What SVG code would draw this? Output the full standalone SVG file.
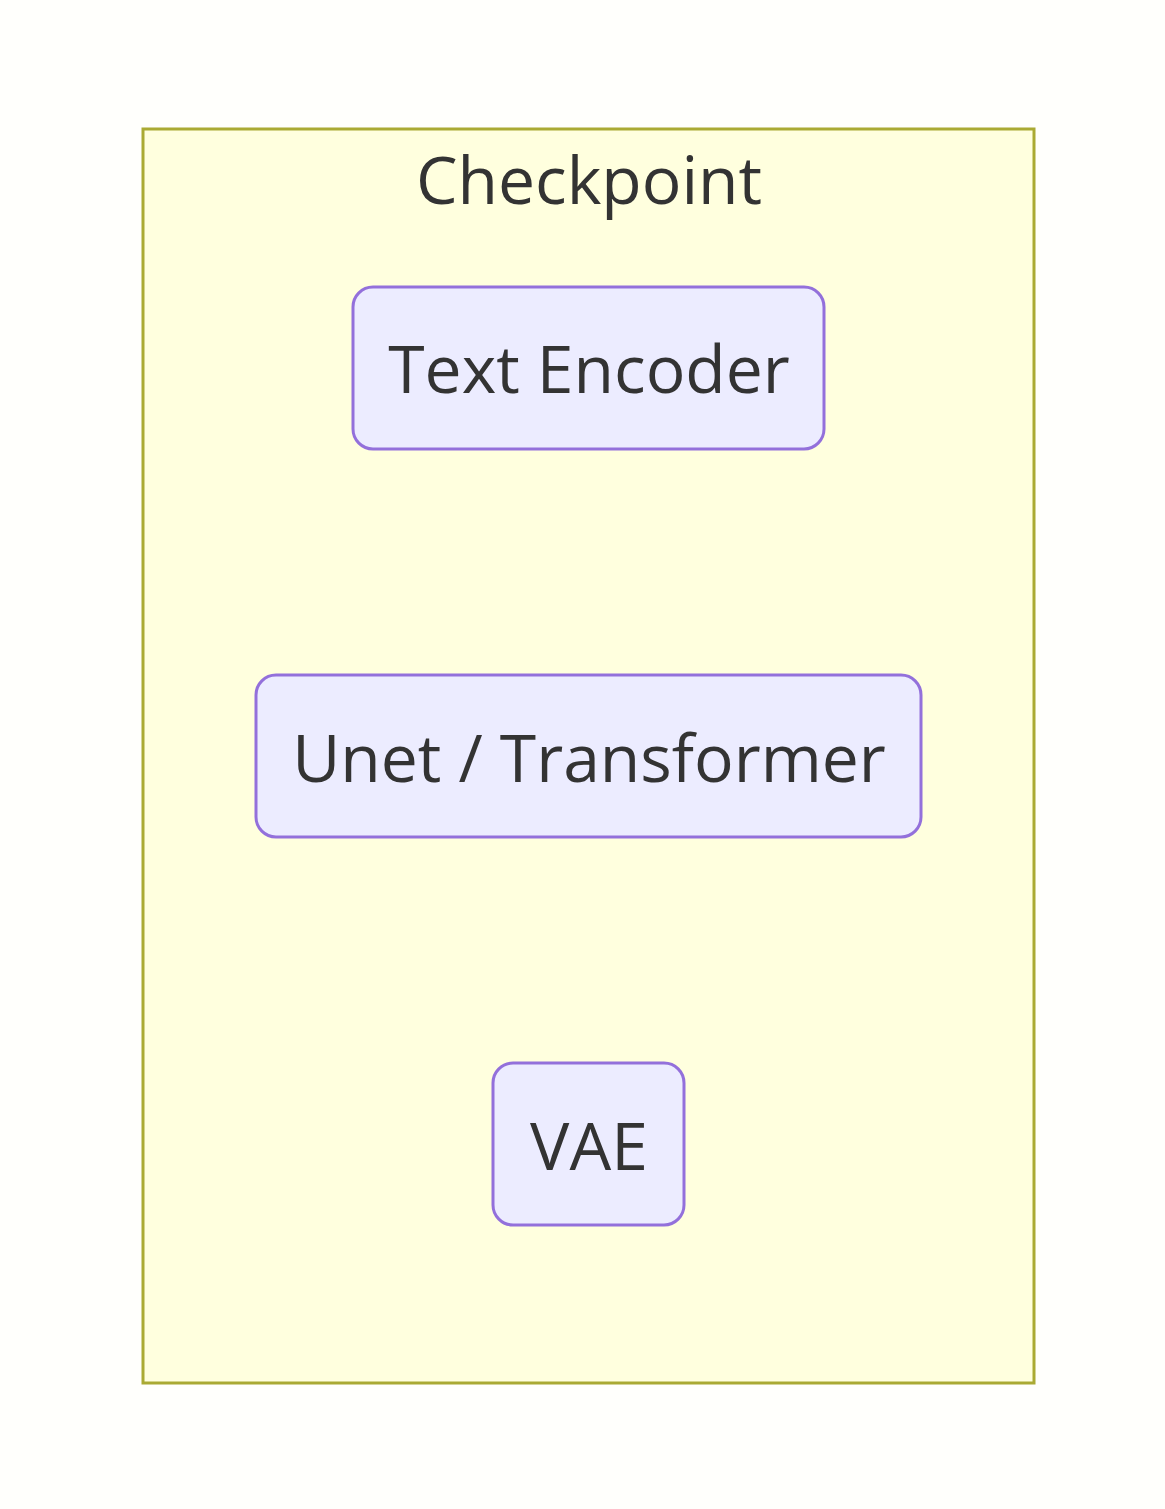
<svg xmlns="http://www.w3.org/2000/svg" width="1165" height="1509" viewBox="0 0 1165 1509">
<style>
.node rect{fill:#ECECFF;stroke:#9370DB;stroke-width:3}
text{font-family:"Open Sans","Noto Sans",sans-serif;fill:#333;text-anchor:middle}
.lbl{font-size:66px}
</style>
<rect width="1165" height="1509" fill="#FFFFFC"/>
<g id="Checkpoint">
<rect x="143" y="129" width="891" height="1254" fill="#FFFFDE" stroke="#AAAA33" stroke-width="3"/>
<text x="589" y="204" font-size="66">Checkpoint</text>
</g>
<g id="TextEncoder" class="node"><rect x="353" y="287" width="471" height="162" rx="20"/><text class="lbl" x="589" y="393">Text Encoder</text></g>
<g id="Unet" class="node"><rect x="256" y="675" width="665" height="162" rx="20"/><text class="lbl" x="589" y="782">Unet / Transformer</text></g>
<g id="VAE" class="node"><rect x="493" y="1063" width="191" height="162" rx="20"/><text class="lbl" x="589" y="1170">VAE</text></g>
<g id="connectors"/>
</svg>
